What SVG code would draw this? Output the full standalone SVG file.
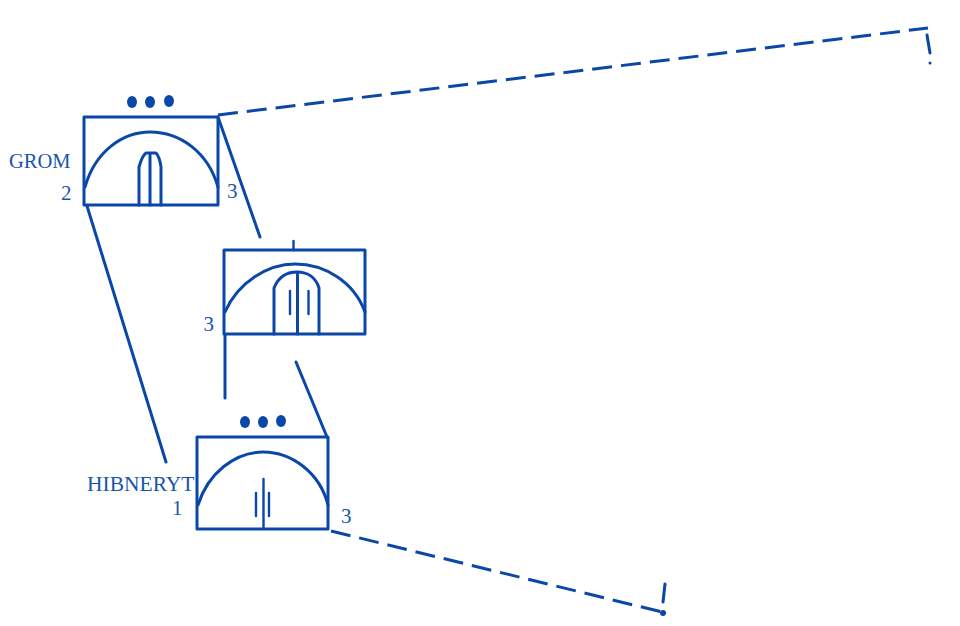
<svg xmlns="http://www.w3.org/2000/svg" width="960" height="626" viewBox="0 0 960 626">
<style>
.s{fill:none;stroke:#0b47a8;stroke-width:3;stroke-linecap:round;stroke-linejoin:round}
.t{stroke-width:2.400}
.d{stroke-dasharray:20 9;stroke-linecap:butt}
.p{fill:#0b47a8}
text{font-family:"Liberation Serif","Times New Roman",serif;fill:#1a55ac;font-size:21px}
.l{font-size:20.500px}
.h{font-size:21.500px}
</style>
<rect width="960" height="626" fill="#ffffff"/>
<g id="connectors">
<path class="s" d="M218 117L260 237"/>
<path class="s" d="M87 206L166 462"/>
<path class="s" d="M225 335L225 398"/>
<path class="s" d="M296 362L327 437"/>
<path class="s d" d="M218 115L928 28"/>
<path class="s" d="M927 35L930 53"/>
<circle class="p" cx="930" cy="63" r="1.500"/>
<path class="s d" d="M331 531L662 612"/>
<path class="s" d="M665 584L663 602"/>
<circle class="p" cx="663" cy="613" r="3"/>
</g>
<g id="grom">
<rect class="s" x="84" y="117" width="134" height="88"/>
<path class="s" d="M85 187C95 152 122 132 150 132C180 132 208 152 218 187"/>
<path class="s" d="M139 205V167C141 160 143 155 146 153H156C158 155 160 160 161 167V205M150 153V205"/>
<ellipse class="p" cx="132" cy="102" rx="5" ry="6"/><ellipse class="p" cx="150" cy="102" rx="5" ry="6"/><ellipse class="p" cx="169" cy="101" rx="5" ry="6"/>
<text class="l" x="9" y="168">GROM</text>
<text x="61" y="200">2</text>
<text x="227" y="198">3</text>
</g>
<g id="middle">
<rect class="s" x="224" y="250" width="141" height="84"/>
<path class="s" d="M225 312C238 282 268 264 295 264C325 264 354 282 365 312"/>
<path class="s" d="M274 334V288C278 278 286 272 297 272C308 272 316 278 319 288V334M297.500 272V334"/>
<path class="s t" d="M290 291V314M308.500 291V314M293.500 241V250"/>
<text x="203.500" y="331">3</text>
</g>
<g id="hibneryt">
<rect class="s" x="197" y="437" width="131" height="92"/>
<path class="s" d="M198 505C208 473 235 452 263 452C292 452 320 473 328 505"/>
<path class="s t" d="M263.500 479V529M256 493V516M269 493V516"/>
<ellipse class="p" cx="245" cy="422" rx="5" ry="6"/><ellipse class="p" cx="263" cy="422" rx="5" ry="6"/><ellipse class="p" cx="281" cy="421" rx="5" ry="6"/>
<text class="h" x="87" y="491">HIBNERYT</text>
<text x="172" y="515">1</text>
<text x="341" y="523">3</text>
</g>
</svg>
